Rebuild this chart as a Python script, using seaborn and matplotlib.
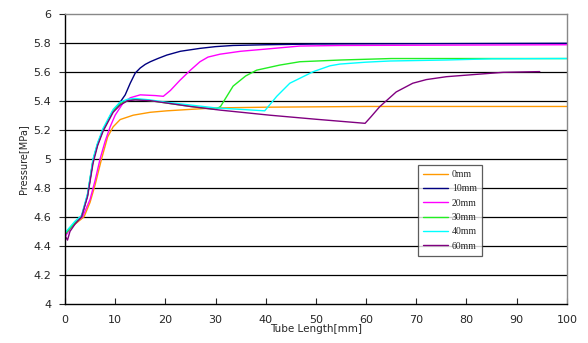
import numpy as np
import pandas as pd
import matplotlib
matplotlib.use("Agg")
import matplotlib.pyplot as plt
import seaborn as sns

# ---- data ----
series_names = ["0mm", "10mm", "20mm", "30mm", "40mm", "60mm"]

x_0mm = [0, 1, 2, 3.8, 5, 6, 7.3, 8.5, 9.6, 11, 13.6, 17, 20.3, 25, 30, 40, 60, 100]
y_0mm = [4.48, 4.52, 4.55, 4.6, 4.7, 4.82, 5.0, 5.15, 5.22, 5.27, 5.30, 5.32, 5.33, 5.34, 5.35, 5.355, 5.36, 5.36]

x_10mm = [0, 1, 2, 3.3, 4.5, 5.6, 6.5, 7.6, 9.6, 11, 12, 13, 14, 15, 16, 17, 18.5, 20.3, 23, 26.9, 30, 33.5, 40, 50, 100]
y_10mm = [4.47, 4.52, 4.56, 4.6, 4.75, 4.99, 5.1, 5.2, 5.33, 5.39, 5.44, 5.52, 5.59, 5.625, 5.65, 5.668, 5.69, 5.714, 5.74, 5.76, 5.772, 5.78, 5.785, 5.79, 5.795]

x_20mm = [0, 1, 2, 3.5, 5, 6, 7, 8, 9, 10, 11.5, 13, 15, 18, 19.6, 21, 22.9, 25, 26.9, 28.5, 30.9, 35, 40, 46.8, 55, 100]
y_20mm = [4.46, 4.52, 4.56, 4.6, 4.72, 4.85, 5.0, 5.12, 5.22, 5.3, 5.38, 5.42, 5.44, 5.435, 5.43, 5.47, 5.54, 5.61, 5.668, 5.70, 5.72, 5.74, 5.755, 5.776, 5.78, 5.785]

x_30mm = [0, 1, 2, 3.3, 4.5, 5.6, 6.5, 7.6, 9.6, 11, 12.5, 14, 17, 20, 25, 30, 31, 33.5, 36, 38.2, 42.8, 46.8, 55, 65, 100]
y_30mm = [4.48, 4.52, 4.56, 4.6, 4.75, 4.99, 5.1, 5.2, 5.33, 5.38, 5.40, 5.41, 5.40, 5.385, 5.36, 5.34, 5.36, 5.50, 5.57, 5.61, 5.645, 5.668, 5.68, 5.69, 5.69]

x_40mm = [0, 1, 2, 3.3, 4.5, 5.6, 6.5, 7.6, 9.6, 11, 12.5, 14, 17, 20, 25, 30, 35, 39.8, 42.2, 44.8, 49.5, 52.8, 54.8, 60, 64.7, 76, 85, 100]
y_40mm = [4.49, 4.53, 4.57, 4.61, 4.76, 5.0, 5.11, 5.21, 5.34, 5.39, 5.41, 5.415, 5.405, 5.39, 5.37, 5.35, 5.34, 5.33, 5.43, 5.52, 5.60, 5.64, 5.652, 5.665, 5.673, 5.68, 5.688, 5.69]

x_60mm = [0, 0.5, 1, 2, 3.3, 4.5, 5.6, 6.5, 7.6, 9.6, 11, 12.5, 14, 17, 20, 25, 30.9, 40.8, 50, 59.8, 61, 62.7, 66, 69.3, 72, 76, 82.7, 87.3, 94.6]
y_60mm = [4.47, 4.44, 4.50, 4.55, 4.6, 4.74, 4.97, 5.09, 5.19, 5.32, 5.37, 5.40, 5.405, 5.40, 5.385, 5.36, 5.335, 5.30, 5.272, 5.244, 5.29, 5.358, 5.46, 5.52, 5.545, 5.565, 5.583, 5.595, 5.60]

colors = ["#FF9900", "#000080", "#FF00FF", "#22EE22", "#00FFFF", "#800080"]

xs = [x_0mm, x_10mm, x_20mm, x_30mm, x_40mm, x_60mm]
ys = [y_0mm, y_10mm, y_20mm, y_30mm, y_40mm, y_60mm]

frames = []
for name, xv, yv in zip(series_names, xs, ys):
    frames.append(pd.DataFrame({"x": xv, "y": yv, "series": name}))
df = pd.concat(frames, ignore_index=True)

sns.set_style("white")
plt.rcParams["font.family"] = ["DejaVu Sans"]

fig = plt.figure(figsize=(5.88, 3.43), dpi=100)
ax = fig.add_axes([0.1105, 0.1137, 0.8535, 0.8469])

# horizontal gridlines
for yv in np.arange(4.2, 5.81, 0.2):
    ax.axhline(yv, color="black", lw=0.9, zorder=0)

sns.lineplot(data=df, x="x", y="y", hue="series", hue_order=series_names,
             palette=dict(zip(series_names, colors)), sort=False,
             estimator=None, lw=1.0, ax=ax)

ax.set_xlim(0, 100)
ax.set_ylim(4, 6)
ax.set_xticks(np.arange(0, 101, 10))
yt = np.round(np.arange(4, 6.01, 0.2), 1)
ax.set_yticks(yt)
ax.set_yticklabels([f"{v:g}" for v in yt])
ax.tick_params(axis="y", direction="out", length=4, width=0.8, labelsize=8, pad=6)
ax.tick_params(axis="x", direction="in", length=4, width=0.8, labelsize=8, pad=8)
ax.yaxis.set_ticks_position("left")
ax.xaxis.set_ticks_position("bottom")

for s in ["left", "bottom"]:
    ax.spines[s].set_color("black")
    ax.spines[s].set_linewidth(1.0)
for s in ["top", "right"]:
    ax.spines[s].set_color("#888888")
    ax.spines[s].set_linewidth(1.0)

ax.set_xlabel("Tube Length[mm]", fontsize=7.5, labelpad=-1)
ax.set_ylabel("Pressure[MPa]", fontsize=7, labelpad=4)

handles, labels = ax.get_legend_handles_labels()
leg = ax.legend(handles, labels, loc="upper left", bbox_to_anchor=(0.703, 0.478),
                frameon=True, fancybox=False, edgecolor="#333333",
                prop={"family": "Liberation Serif", "size": 7},
                handlelength=2.6, handletextpad=0.4, labelspacing=0.55,
                borderpad=0.5, borderaxespad=0)
leg.get_frame().set_linewidth(0.9)

fig.savefig("out.png", dpi=100)
